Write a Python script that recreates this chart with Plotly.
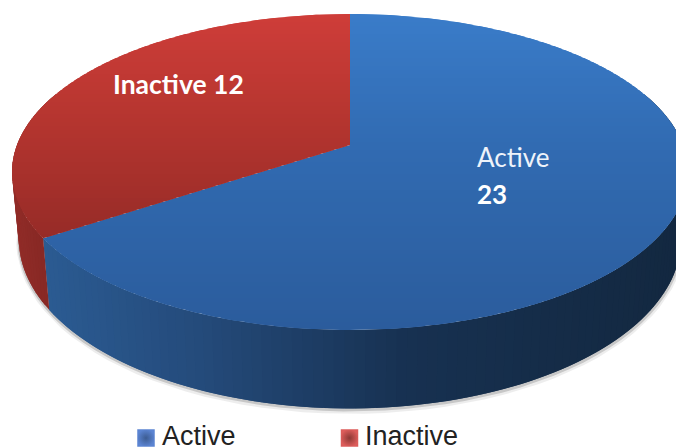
import math
import plotly.graph_objects as go

categories = ["Active", "Inactive"]
values = [23, 12]
slice_labels_font = "Lato"

W, H = 676, 448
CX, CY, A, K, B = 350.0, 145.0, 333.0, 0.171, 128.6
DEPTH, SHRINK = 65.0, 0.98

top_stops = {
    "Active": [(14, (58, 124, 201)), (145, (49, 107, 178)), (330, (43, 92, 156))],
    "Inactive": [(14, (206, 61, 57)), (110, (184, 54, 48)), (240, (150, 43, 39))],
}
rim_stops = {
    "Active": [(45, (43, 91, 146)), (200, (36, 74, 122)), (400, (23, 49, 81)), (676, (19, 40, 64))],
    "Inactive": [(10, (146, 44, 40)), (50, (134, 40, 36))],
}


def lerp(stops, t):
    if t <= stops[0][0]:
        c = stops[0][1]
    elif t >= stops[-1][0]:
        c = stops[-1][1]
    else:
        for (a, ca), (b, cb) in zip(stops, stops[1:]):
            if a <= t <= b:
                f = (t - a) / (b - a)
                c = tuple(ca[i] + (cb[i] - ca[i]) * f for i in range(3))
                break
    return "rgb(%d,%d,%d)" % tuple(round(v) for v in c)


def top_pt(t):
    u, v = math.sin(t), math.cos(t)
    d = 1 + K * v
    return CX + A * u / d, (CY - B * v) / d


def low_pt(t):
    x, y = top_pt(t)
    return CX + (x - CX) * SHRINK, y + DEPTH / (1 + K * math.cos(t))


def clip(poly, y0, y1):
    def side(pts, keep, cross_y):
        out = []
        for i, p in enumerate(pts):
            q = pts[(i + 1) % len(pts)]
            if keep(p):
                out.append(p)
            if keep(p) != keep(q):
                f = (cross_y - p[1]) / (q[1] - p[1])
                out.append((p[0] + (q[0] - p[0]) * f, cross_y))
        return out
    r = side(poly, lambda p: p[1] >= y0, y0)
    return side(r, lambda p: p[1] <= y1, y1) if r else r


fig = go.Figure()


def patch(pts, color):
    xs = [p[0] for p in pts] + [pts[0][0]]
    ys = [p[1] for p in pts] + [pts[0][1]]
    fig.add_trace(go.Scatter(x=xs, y=ys, mode="lines", fill="toself", fillcolor=color,
                             line=dict(width=0), hoverinfo="skip", showlegend=False))


total = sum(values)
spans, start = [], 0.0
for name, val in zip(categories, values):
    end = start + 2 * math.pi * val / total
    spans.append((name, start, end))
    start = end

# soft shadow under the disc
sh = [low_pt(math.radians(d)) for d in range(70, 285, 3)]
for width, alpha, off in [(6, 0.07, 2.5), (3, 0.16, 1.5)]:
    fig.add_trace(go.Scatter(x=[p[0] + off * 0.2 for p in sh], y=[p[1] + off for p in sh], mode="lines",
                             line=dict(color="rgba(0,0,0,%g)" % alpha, width=width),
                             hoverinfo="skip", showlegend=False))

# rim: overlapping strips, later ones painted over earlier ones so no seams show
for name, a0, a1 in spans:
    n = max(2, int((a1 - a0) / math.radians(1.5)))
    for i in range(n):
        t0, t1 = a0 + (a1 - a0) * i / n, a0 + (a1 - a0) * (i + 2) / n
        t1 = min(t1, a1)
        if math.cos((t0 + t1) / 2) > 0.35:
            continue
        m = (t0 + t1) / 2
        pts = [top_pt(t0), top_pt(m), top_pt(t1), low_pt(t1), low_pt(m), low_pt(t0)]
        patch(pts, lerp(rim_stops[name], sum(p[0] for p in pts) / 6))

# top faces: overlapping horizontal bands
for name, a0, a1 in spans:
    n = 180
    poly = [(CX, CY)] + [top_pt(a0 + (a1 - a0) * i / n) for i in range(n + 1)]
    y = 10
    while y < 335:
        band = clip(poly, y, y + 7)
        if len(band) >= 3:
            patch(band, lerp(top_stops[name], y + 2))
        y += 4

# legend markers
legend_x = [146, 349.5]
legend_text_x = [160, 362.5]
legend_fill = ["#5b84d2", "#dc5c5a"]
legend_core = ["#3c5c92", "#8c3834"]
for name, lx, tx, f, c in zip(categories, legend_x, legend_text_x, legend_fill, legend_core):
    fig.add_trace(go.Scatter(x=[lx], y=[438], mode="markers", hoverinfo="skip", showlegend=False,
                             marker=dict(symbol="square", size=17.5, color=f, line=dict(width=0),
                                         gradient=dict(type="radial", color=c))))
    fig.add_annotation(x=tx, y=436, text=name, showarrow=False, xanchor="left", yanchor="middle",
                       font=dict(family="Liberation Sans", size=27, color="#222222"))

# slice labels
fig.add_annotation(x=475, y=157, text=categories[0], showarrow=False, xanchor="left", yanchor="middle",
                   font=dict(family=slice_labels_font, size=26, color="#eef3fa"))
fig.add_annotation(x=475, y=194, text="<b>%d</b>" % values[0], showarrow=False, xanchor="left", yanchor="middle",
                   font=dict(family=slice_labels_font, size=26, color="white"))
fig.add_annotation(x=110.5, y=84, text="<b>%s %d</b>" % (categories[1], values[1]), showarrow=False,
                   xanchor="left", yanchor="middle",
                   font=dict(family=slice_labels_font, size=26.5, color="white"))

fig.update_layout(width=W, height=H, autosize=False, margin=dict(l=0, r=0, t=0, b=0),
                  paper_bgcolor="white", plot_bgcolor="white", showlegend=False,
                  xaxis=dict(range=[0, W], visible=False, fixedrange=True),
                  yaxis=dict(range=[H, 0], visible=False, fixedrange=True))
fig.write_html("out.html", config=dict(displayModeBar=False),
               post_script="document.body.style.margin='0';document.documentElement.style.overflow='hidden';")
